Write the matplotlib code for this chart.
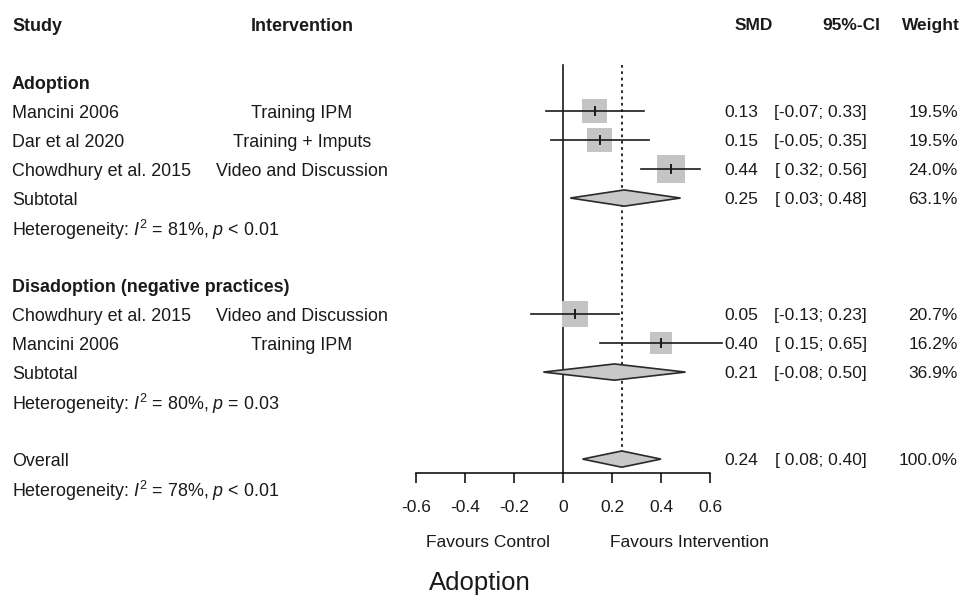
import numpy as np
import matplotlib
matplotlib.use("Agg")
import matplotlib.pyplot as plt
from matplotlib.patches import Polygon

plt.rcParams['font.family'] = ['Liberation Sans', 'DejaVu Sans']
plt.rcParams['mathtext.fontset'] = 'custom'
plt.rcParams['mathtext.rm'] = 'Liberation Sans'
plt.rcParams['mathtext.it'] = 'Liberation Sans:italic'

# ---- data ----
adopt_studies = ["Mancini 2006", "Dar et al 2020", "Chowdhury et al. 2015"]
adopt_interv = ["Training IPM", "Training + Imputs", "Video and Discussion"]
adopt_smd = [0.13, 0.15, 0.44]
adopt_lo = [-0.07, -0.05, 0.32]
adopt_hi = [0.33, 0.35, 0.56]
adopt_w = [19.5, 19.5, 24.0]
adopt_sub = (0.25, 0.03, 0.48, 63.1)
adopt_het = (81, "<", "0.01")

dis_studies = ["Chowdhury et al. 2015", "Mancini 2006"]
dis_interv = ["Video and Discussion", "Training IPM"]
dis_smd = [0.05, 0.40]
dis_lo = [-0.13, 0.15]
dis_hi = [0.23, 0.65]
dis_w = [20.7, 16.2]
dis_sub = (0.21, -0.08, 0.50, 36.9)
dis_het = (80, "=", "0.03")

overall = (0.24, 0.08, 0.40, 100.0)
overall_het = (78, "<", "0.01")

xticks = [-0.6, -0.4, -0.2, 0, 0.2, 0.4, 0.6]
xticklabels = ["-0.6", "-0.4", "-0.2", "0", "0.2", "0.4", "0.6"]

# ---- layout ----
FS = 12.5
FS_LEFT = 12.9
TXT = '#1a1a1a'
X_STUDY, X_INT = -2.249, -1.065
X_SMD, X_CI, X_W = 0.796, 1.241, 1.612
AXIS_Y = 15.48

fig = plt.figure(figsize=(9.63, 5.96), dpi=100)
ax = fig.add_axes([0, 0, 1, 1])
ax.set_xlim(-2.298, 1.633)
ax.set_ylim(19.72, -0.828)
for s in ['top', 'left', 'right']:
    ax.spines[s].set_visible(False)
ax.spines['bottom'].set_position(('data', AXIS_Y))
ax.spines['bottom'].set_bounds(-0.6, 0.6)
ax.spines['bottom'].set_linewidth(1.1)
ax.set_yticks([])
ax.set_xticks(xticks)
ax.set_xticklabels(xticklabels, fontsize=FS, color=TXT)
ax.tick_params(axis='x', direction='out', length=7.5, width=1.1, pad=12)


def fmt(v):
    return f"{v:.2f}" if v < 0 else f" {v:.2f}"


def txt(x, y, s, ha='left', bold=False, size=FS):
    ax.text(x, y, s, ha=ha, va='center_baseline', fontsize=size, color=TXT,
            fontweight='bold' if bold else 'normal')


def stats(y, est, lo, hi, w):
    txt(X_SMD, y, f"{est:.2f}", ha='right')
    txt(X_CI, y, f"[{fmt(lo)}; {hi:.2f}]", ha='right')
    txt(X_W, y, f"{w:.1f}%", ha='right')


def diamond(y, est, lo, hi):
    h = 0.28
    ax.add_patch(Polygon([(lo, y), (est, y - h), (hi, y), (est, y + h)],
                         closed=True, facecolor='#c8c8c8', edgecolor='#2a2a2a',
                         linewidth=1.2, zorder=4))


def het(y, i2, op, p):
    ax.text(X_STUDY, y, f"Heterogeneity: $I^2$ = {i2}%, $p$ {op} {p}",
            ha='left', va='center_baseline', fontsize=FS_LEFT, color=TXT)


def group(y0, title, studies, interv, smd, lo, hi, w, sub, h):
    txt(X_STUDY, y0, title, bold=True, size=FS_LEFT)
    for k in range(len(studies)):
        y = y0 + 1 + k
        txt(X_STUDY, y, studies[k], size=FS_LEFT)
        txt(X_INT, y, interv[k], ha='center', size=FS_LEFT)
        side = 4.05 * np.sqrt(w[k])
        ax.scatter(smd[k], y, marker='s', s=side ** 2, color='#c4c4c4',
                   edgecolors='none', zorder=3)
        ax.plot([lo[k], hi[k]], [y, y], color='#1a1a1a', lw=1.2, zorder=4)
        ax.plot([smd[k], smd[k]], [y - 0.14, y + 0.14], color='#1a1a1a',
                lw=1.4, zorder=5)
        stats(y, smd[k], lo[k], hi[k], w[k])
    ys = y0 + 1 + len(studies)
    txt(X_STUDY, ys, "Subtotal", size=FS_LEFT)
    diamond(ys, sub[0], sub[1], sub[2])
    stats(ys, *sub)
    het(ys + 1, *h)


# headers
txt(X_STUDY, 0, "Study", bold=True, size=FS_LEFT)
txt(X_INT, 0, "Intervention", ha='center', bold=True, size=FS_LEFT)
txt(0.857, 0, "SMD", ha='right', bold=True)
txt(1.294, 0, "95%-CI", ha='right', bold=True)
txt(1.620, 0, "Weight", ha='right', bold=True)

# reference lines
ax.plot([0, 0], [1.41, AXIS_Y], color='#1a1a1a', lw=1.2, zorder=2)
ax.plot([overall[0], overall[0]], [1.41, 15.0], color='#1a1a1a', lw=1.3,
        ls=(0, (1.5, 2.0)), zorder=2)

group(2, "Adoption", adopt_studies, adopt_interv, adopt_smd, adopt_lo,
      adopt_hi, adopt_w, adopt_sub, adopt_het)
group(9, "Disadoption (negative practices)", dis_studies, dis_interv, dis_smd,
      dis_lo, dis_hi, dis_w, dis_sub, dis_het)

txt(X_STUDY, 15, "Overall", size=FS_LEFT)
diamond(15, overall[0], overall[1], overall[2])
stats(15, *overall)
het(16, *overall_het)

txt(-0.306, 17.83, "Favours Control", ha='center')
txt(0.518, 17.83, "Favours Intervention", ha='center')
txt(-0.339, 19.2, "Adoption", ha='center', size=18.5)

fig.savefig("out.png", dpi=100)
